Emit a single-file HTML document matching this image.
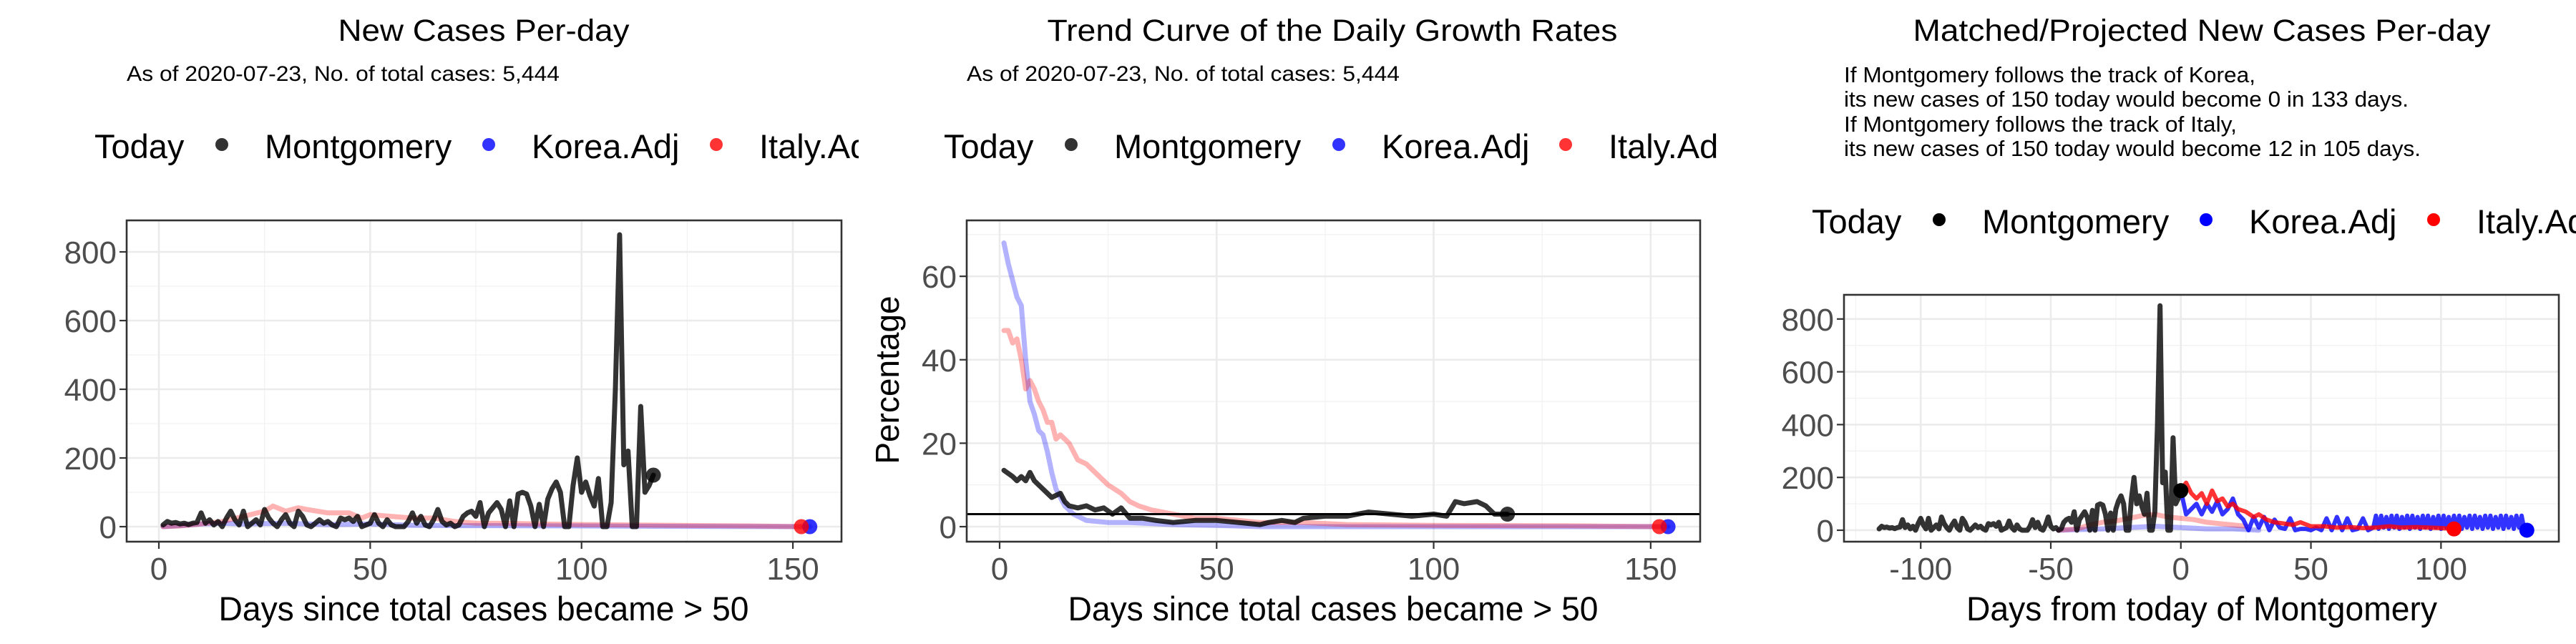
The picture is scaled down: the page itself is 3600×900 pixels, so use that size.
<!DOCTYPE html>
<html><head><meta charset="utf-8"><style>
html,body{margin:0;padding:0;background:#fff;}
body{width:3600px;height:900px;overflow:hidden;display:flex;font-family:"Liberation Sans",Arial,sans-serif;}
svg{display:block;overflow:hidden;}
</style></head><body>
<svg id="p1" width="1200" height="900"></svg>
<svg id="p2" width="1200" height="900"></svg>
<svg id="p3" width="1200" height="900"></svg>
<script>
// ---------- data ----------
const montCases = [5,15,10,12,8,10,6,10,12,40,10,20,5,15,0,25,45,20,5,45,0,10,20,5,50,25,10,0,20,35,10,0,45,30,5,0,10,20,10,15,5,0,25,20,25,15,30,0,5,10,35,10,0,20,5,0,0,0,15,40,10,30,5,0,20,50,15,5,10,0,5,30,40,45,30,70,0,40,55,70,50,0,75,0,95,100,95,60,0,65,0,80,110,130,100,0,0,120,200,100,130,90,60,140,0,0,70,400,850,180,220,0,0,350,100,120,150];
const italyDays = [1,5,10,15,20,25,27,30,33,35,40,45,48,50,55,60,65,70,75,80,90,100,110,120,130,140,152];
const italyCases = [0,2,8,15,30,45,60,45,55,50,40,40,25,35,30,25,25,15,10,10,8,6,5,4,3,2,0];
const koreaDays = [1,5,10,15,20,30,40,50,60,70,80,100,120,154];
const koreaCases = [0,3,8,10,8,10,6,8,4,3,3,2,1,0];

const montGrDays = [1,3,4,5,6,7,8,10,12,14,15,16,18,20,22,24,26,28,30,33,36,40,45,50,55,60,62,65,68,70,75,80,85,90,95,100,103,105,107,110,112,114,117];
const montGr = [13.5,12,11,12,11,13,11,9,7,8,6,5,4.5,5,4,4.5,3,4.5,2,2,1.5,1,1.5,1.5,1,0.5,1,1.5,1,2,2.5,2.5,3.5,3,2.5,3,2.5,6,5.5,6,5,3,3];
const koreaGrDays = [1,2,3,4,5,6,7,8,9,10,11,12,13,14,15,17,20,25,30,40,50,60,80,100,154];
const koreaGr = [68,63,59,55,53,40,30,27,23,22,18,13,9,7,5,3,1.5,1,1,0.5,0.3,0,0,0,0];
const italyGrDays = [1,2,3,4,5,6,7,8,9,10,11,12,13,14,16,18,20,22,25,28,30,32,35,40,45,50,60,70,80,100,130,152];
const italyGr = [47,47,44,45,40,33,35,33,30,28,25,25,21,22,20,16,15,13,10,8,6,5,4,3,2,2,1,1,0.5,0.3,0.2,0];
const refRate = 3;

const koreaProjDays = [0,2,4,6,8,10,12,14,16,18,20,22,24,26,28,30,32,34,36,38,40,42,44,46,48,50,52,54,56,58,60,62,64,66,68,70,72,74,75,76,77,78,79,80,81,82,83,84,85,86,87,88,89,90,91,92,93,94,95,96,97,98,99,100,101,102,103,104,105,106,107,108,109,110,111,112,113,114,115,116,117,118,119,120,121,122,123,124,125,126,127,128,129,130,131,132,133];
const koreaProj = [150,60,80,100,60,100,70,110,60,80,120,60,40,0,50,10,50,0,40,10,5,45,0,5,5,0,10,0,45,0,50,0,45,0,5,45,0,10,55,5,55,10,50,5,55,10,55,5,50,10,55,5,55,10,50,5,55,10,55,5,50,10,55,5,55,10,50,5,55,10,55,5,50,10,55,5,55,10,50,5,55,10,55,5,50,10,55,5,55,10,50,5,55,10,55,5,0];
const italyProjDays = [0,2,4,6,8,10,12,14,16,18,20,22,25,28,30,33,36,40,43,46,50,55,60,65,70,75,80,85,90,95,100,105];
const italyProj = [150,180,140,120,140,100,150,110,120,90,100,80,70,50,60,40,30,25,20,30,15,15,10,12,8,10,15,10,12,10,8,5];
const italyPastDays = [-47,-40,-35,-30,-25,-20,-15,-10,-5,0,5,10,15,20,25];
const italyPast = [0,5,20,30,35,45,55,60,50,45,40,30,25,20,15];
const koreaPastDays = [-47,-30,-20,-10,0,10,20,30];
const koreaPast = [0,5,10,15,10,5,5,0];

const xTicks12 = [0,50,100,150];
const xMinor12 = [25,75,125];
const yTicks1 = [0,200,400,600,800];
const yMinor1 = [100,300,500,700];
const yTicks2 = [0,20,40,60];
const yMinor2 = [10,30,50,70];
const xTicks3 = [-100,-50,0,50,100];
const xMinor3 = [-125,-75,-25,25,75,125];

// ---------- helpers ----------
const NS='http://www.w3.org/2000/svg';
function mk(svg,tag,attrs,txt){const e=document.createElementNS(NS,tag);for(const k in attrs)e.setAttribute(k,attrs[k]);if(txt!==undefined)e.textContent=txt;svg.appendChild(e);return e;}

function panel(svg,cfg){
  const {L,R,T,B,xmin,xmax,ymin,ymax}=cfg;
  const sx=v=>L+(v-xmin)/(xmax-xmin)*(R-L);
  const sy=v=>B-(v-ymin)/(ymax-ymin)*(B-T);
  const id=svg.id+'clip';
  const defs=mk(svg,'defs',{});
  const cp=document.createElementNS(NS,'clipPath');cp.setAttribute('id',id);defs.appendChild(cp);
  mk(cp,'rect',{x:L,y:T,width:R-L,height:B-T});
  const g=mk(svg,'g',{});
  
  
  cfg.xMinor.forEach(v=>mk(g,'line',{x1:sx(v),x2:sx(v),y1:T,y2:B,stroke:'#f2f2f2','stroke-width':1.3}));
  cfg.yMinor.forEach(v=>mk(g,'line',{x1:L,x2:R,y1:sy(v),y2:sy(v),stroke:'#f2f2f2','stroke-width':1.3}));
  cfg.xTicks.forEach(v=>mk(g,'line',{x1:sx(v),x2:sx(v),y1:T,y2:B,stroke:'#ebebeb','stroke-width':2.6}));
  cfg.yTicks.forEach(v=>mk(g,'line',{x1:L,x2:R,y1:sy(v),y2:sy(v),stroke:'#ebebeb','stroke-width':2.6}));
  const ax=mk(svg,'g',{});
  
  
  cfg.xTicks.forEach(v=>{
    mk(ax,'line',{x1:sx(v),x2:sx(v),y1:B,y2:B+10,stroke:'#333','stroke-width':2.2});
    const t=mk(ax,'text',{x:sx(v),y:B+53,'text-anchor':'middle','font-size':44,fill:'#4d4d4d'},String(v));
    
    
  });
  cfg.yTicks.forEach(v=>{
    mk(ax,'line',{x1:L-10,x2:L,y1:sy(v),y2:sy(v),stroke:'#333','stroke-width':2.2});
    const t=mk(ax,'text',{x:L-14,y:sy(v)+16,'text-anchor':'end','font-size':44,fill:'#4d4d4d'},String(v));
    
    
  });
  const pl=mk(svg,'g',{'clip-path':'url(#'+id+')'});
  
  
  mk(svg,'rect',{x:L,y:T,width:R-L,height:B-T,fill:'none',stroke:'#333','stroke-width':2.6});
  return {sx,sy,pl};
}
function line(p,xs,ys,color,w,name){
  const d=xs.map((x,i)=>(i?'L':'M')+p.sx(x).toFixed(1)+' '+p.sy(ys[i]).toFixed(1)).join('');
  const e=mk(p.pl,'path',{d,fill:'none',stroke:color,'stroke-width':w,'stroke-linejoin':'round','stroke-linecap':'round'});
  
  
}
function dot(p,x,y,color,name){
  const e=mk(p.pl,'circle',{cx:p.sx(x),cy:p.sy(y),r:10.5,fill:color});
  
  
}
function legend(svg,y,x0,xs,cols){
  const g=mk(svg,'g',{});
  
  
  mk(g,'text',{x:x0,y:y+19,'font-size':47,fill:'#000'},'Today');
  const labs=['Montgomery','Korea.Adj','Italy.Adj'];
  labs.forEach((l,i)=>{
    mk(g,'circle',{cx:xs[i],cy:y,r:9,fill:cols[i]});
    const t=mk(g,'text',{x:xs[i]+60,y:y+19,'font-size':47,fill:'#000'},l);
    
    
  });
}
function txt(svg,x,y,s,size,anchor,name,len){
  const a={x,y,'font-size':size,fill:'#000','text-anchor':anchor||'start'};
  if(len){a.textLength=len;a.lengthAdjust='spacingAndGlyphs';}
  const t=mk(svg,'text',a,s);
  
  
  return t;
}
const BLK='rgba(0,0,0,0.8)',BLUEF='rgba(0,0,255,0.3)',REDF='rgba(255,0,0,0.3)';
const montDays=montCases.map((_,i)=>i+1);

// ---------- panel 1 ----------
(function(){
  const s=document.getElementById('p1');
  txt(s,676,57,'New Cases Per-day',43,'middle','chart-title',407);
  txt(s,177,113,'As of 2020-07-23, No. of total cases: 5,444',30,'start','subtitle',605);
  legend(s,202,132,[310,683,1001],[BLK,'rgba(0,0,255,0.8)','rgba(255,0,0,0.8)']);
  const p=panel(s,{L:177,R:1176,T:308,B:757,xmin:-7.62,xmax:161.5,ymin:-43.75,ymax:891.7,xTicks:xTicks12,xMinor:xMinor12,yTicks:yTicks1,yMinor:yMinor1});
  line(p,koreaDays,koreaCases,BLUEF,7,'korea-line');
  line(p,italyDays,italyCases,REDF,7,'italy-line');
  line(p,montDays,montCases,BLK,7,'montgomery-line');
  dot(p,montDays[montDays.length-1],montCases[montCases.length-1],BLK,'montgomery-today-point');
  dot(p,koreaDays[koreaDays.length-1],koreaCases[koreaCases.length-1],'rgba(0,0,255,0.8)','korea-today-point');
  dot(p,italyDays[italyDays.length-1],italyCases[italyCases.length-1],'rgba(255,0,0,0.8)','italy-today-point');
  txt(s,676,867,'Days since total cases became > 50',47,'middle','x-axis-title',741);
})();

// ---------- panel 2 ----------
(function(){
  const s=document.getElementById('p2');
  txt(s,662,57,'Trend Curve of the Daily Growth Rates',43,'middle','chart-title',797);
  txt(s,151,113,'As of 2020-07-23, No. of total cases: 5,444',30,'start','subtitle',605);
  legend(s,202,119,[297,671,988],[BLK,'rgba(0,0,255,0.8)','rgba(255,0,0,0.8)']);
  const p=panel(s,{L:151,R:1176,T:308,B:757,xmin:-7.58,xmax:161.4,ymin:-3.6,ymax:73.4,xTicks:xTicks12,xMinor:xMinor12,yTicks:yTicks2,yMinor:yMinor2});
  line(p,koreaGrDays,koreaGr,BLUEF,7,'korea-growth-line');
  line(p,italyGrDays,italyGr,REDF,7,'italy-growth-line');
  line(p,montGrDays,montGr,BLK,7,'montgomery-growth-line');
  const r=mk(p.pl,'line',{x1:151,x2:1176,y1:p.sy(refRate),y2:p.sy(refRate),stroke:'#000','stroke-width':3});
  
  
  dot(p,montGrDays[montGrDays.length-1],montGr[montGr.length-1],BLK,'montgomery-today-point');
  dot(p,koreaGrDays[koreaGrDays.length-1],koreaGr[koreaGr.length-1],'rgba(0,0,255,0.8)','korea-today-point');
  dot(p,italyGrDays[italyGrDays.length-1],italyGr[italyGr.length-1],'rgba(255,0,0,0.8)','italy-today-point');
  txt(s,663,867,'Days since total cases became > 50',47,'middle','x-axis-title',741);
  const yt=txt(s,0,0,'Percentage',46,'middle','y-axis-title');
  yt.setAttribute('transform','translate(56,531) rotate(-90)');
})();

// ---------- panel 3 ----------
(function(){
  const s=document.getElementById('p3');
  txt(s,677,57,'Matched/Projected New Cases Per-day',43,'middle','chart-title',807);
  txt(s,177,115,'If Montgomery follows the track of Korea,',31,'start','projection-note',575);
  txt(s,177,149,'its new cases of 150 today would become 0 in 133 days.',31,'start','projection-note',789);
  txt(s,177,184,'If Montgomery follows the track of Italy,',31,'start','projection-note',549);
  txt(s,177,218,'its new cases of 150 today would become 12 in 105 days.',31,'start','projection-note',806);
  legend(s,307,132,[310,683,1001],['#000','#0000ff','#ff0000']);
  const p=panel(s,{L:177,R:1176,T:412,B:757,xmin:-129.5,xmax:145.3,ymin:-43.4,ymax:891.6,xTicks:xTicks3,xMinor:xMinor3,yTicks:yTicks1,yMinor:yMinor1});
  line(p,koreaPastDays,koreaPast,BLUEF,7,'korea-past-line');
  line(p,italyPastDays,italyPast,REDF,7,'italy-past-line');
  line(p,montDays.map(d=>d-montDays.length),montCases,BLK,7,'montgomery-line');
  line(p,koreaProjDays,koreaProj,'rgba(0,0,255,0.8)',6,'korea-projection-line');
  line(p,italyProjDays,italyProj,'rgba(255,0,0,0.8)',6,'italy-projection-line');
  dot(p,0,montCases[montCases.length-1],'#000','montgomery-today-point');
  dot(p,koreaProjDays[koreaProjDays.length-1],koreaProj[koreaProj.length-1],'#0000ff','korea-end-point');
  dot(p,italyProjDays[italyProjDays.length-1],italyProj[italyProj.length-1],'#ff0000','italy-end-point');
  txt(s,677,867,'Days from today of Montgomery',47,'middle','x-axis-title',658);
})();
</script>
</body></html>
